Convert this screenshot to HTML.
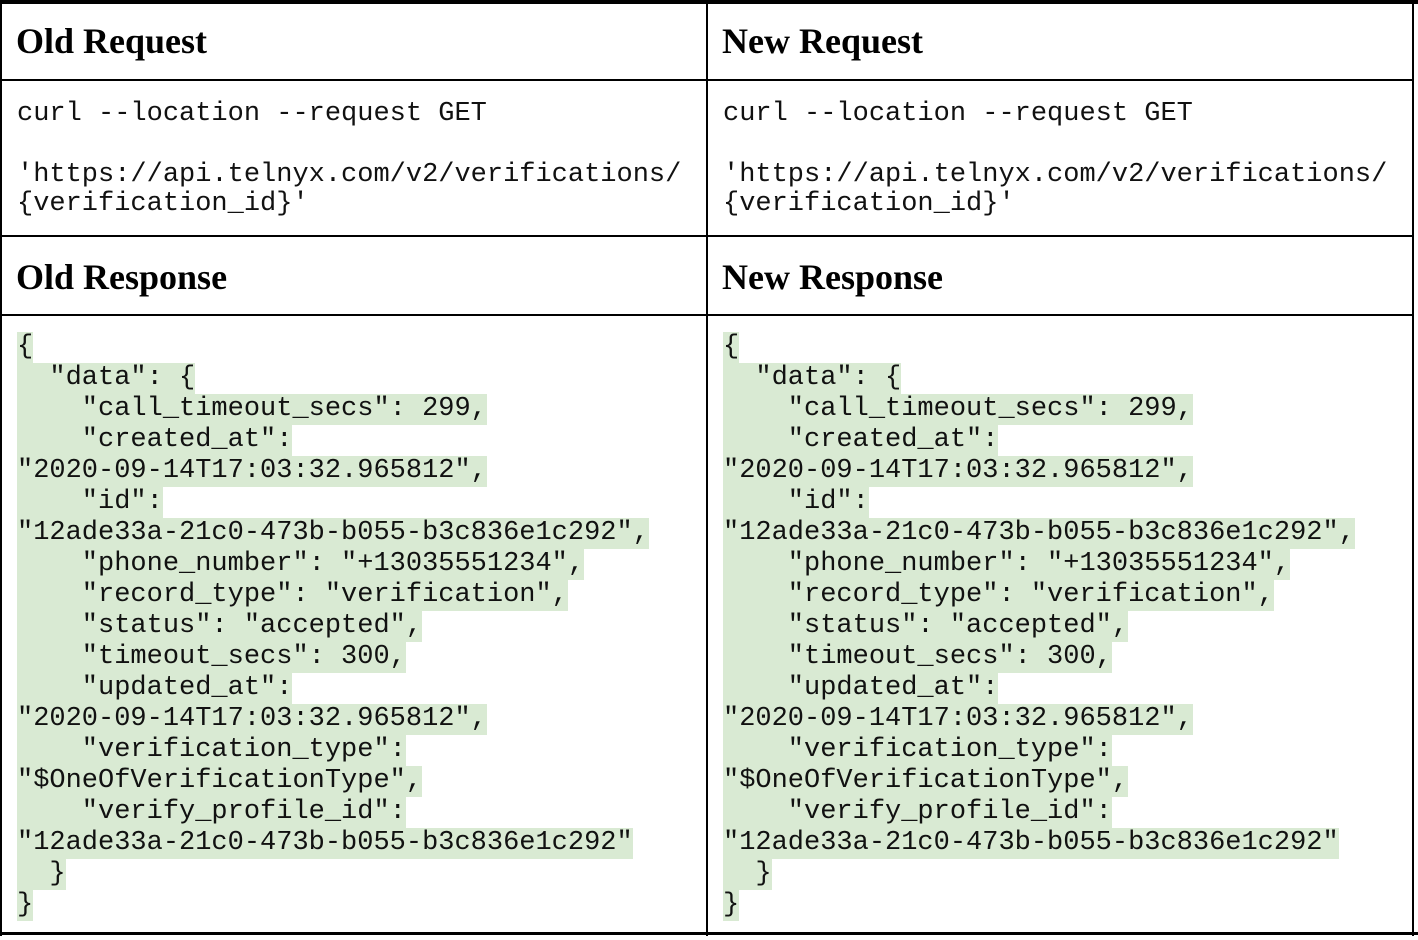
<!DOCTYPE html>
<html><head><style>
body{margin:0;width:1418px;height:940px;background:#fff;position:relative;overflow:hidden;font-family:"Liberation Mono",monospace;}
.b{position:absolute;background:#000;}
.h{position:absolute;font-family:"Liberation Serif",serif;font-weight:bold;font-size:36px;line-height:40px;color:#000;}
.l{position:absolute;font-size:27px;line-height:31px;height:31px;white-space:pre;color:#111;}
.g span{background:#d9ead3;display:inline-block;height:31px;}
</style></head><body>
<div class="b" style="left:0;top:0;width:1418px;height:4px"></div>
<div class="b" style="left:0;top:0;width:2px;height:936px"></div>
<div class="b" style="left:706px;top:0;width:2px;height:936px"></div>
<div class="b" style="left:1412px;top:0;width:2px;height:936px"></div>
<div class="b" style="left:0;top:79px;width:1414px;height:2px"></div>
<div class="b" style="left:0;top:235px;width:1414px;height:2px"></div>
<div class="b" style="left:0;top:314px;width:1414px;height:2px"></div>
<div class="b" style="left:0;top:932px;width:1418px;height:3px"></div>

<div class="h" style="left:16px;top:21px">Old Request</div>
<div class="h" style="left:722px;top:21px">New Request</div>
<div class="h" style="left:16px;top:257px">Old Response</div>
<div class="h" style="left:722px;top:257px">New Response</div>

<div class="l" style="left:17px;top:99px">curl --location --request GET</div>
<div class="l" style="left:17px;top:160px">'https://api.telnyx.com/v2/verifications/</div>
<div class="l" style="left:17px;top:189px">{verification_id}'</div>
<div class="l" style="left:723px;top:99px">curl --location --request GET</div>
<div class="l" style="left:723px;top:160px">'https://api.telnyx.com/v2/verifications/</div>
<div class="l" style="left:723px;top:189px">{verification_id}'</div>

<div class="l g" style="left:17px;top:332px;height:auto;line-height:30.8px"><span>{</span>
<span>  "data": {</span>
<span>    "call_timeout_secs": 299,</span>
<span>    "created_at":</span>
<span>"2020-09-14T17:03:32.965812",</span>
<span>    "id":</span>
<span>"12ade33a-21c0-473b-b055-b3c836e1c292",</span>
<span>    "phone_number": "+13035551234",</span>
<span>    "record_type": "verification",</span>
<span>    "status": "accepted",</span>
<span>    "timeout_secs": 300,</span>
<span>    "updated_at":</span>
<span>"2020-09-14T17:03:32.965812",</span>
<span>    "verification_type":</span>
<span>"$OneOfVerificationType",</span>
<span>    "verify_profile_id":</span>
<span>"12ade33a-21c0-473b-b055-b3c836e1c292"</span>
<span>  }</span>
<span>}</span></div>

<div class="l g" style="left:723px;top:332px;height:auto;line-height:30.8px"><span>{</span>
<span>  "data": {</span>
<span>    "call_timeout_secs": 299,</span>
<span>    "created_at":</span>
<span>"2020-09-14T17:03:32.965812",</span>
<span>    "id":</span>
<span>"12ade33a-21c0-473b-b055-b3c836e1c292",</span>
<span>    "phone_number": "+13035551234",</span>
<span>    "record_type": "verification",</span>
<span>    "status": "accepted",</span>
<span>    "timeout_secs": 300,</span>
<span>    "updated_at":</span>
<span>"2020-09-14T17:03:32.965812",</span>
<span>    "verification_type":</span>
<span>"$OneOfVerificationType",</span>
<span>    "verify_profile_id":</span>
<span>"12ade33a-21c0-473b-b055-b3c836e1c292"</span>
<span>  }</span>
<span>}</span></div>
</body></html>
